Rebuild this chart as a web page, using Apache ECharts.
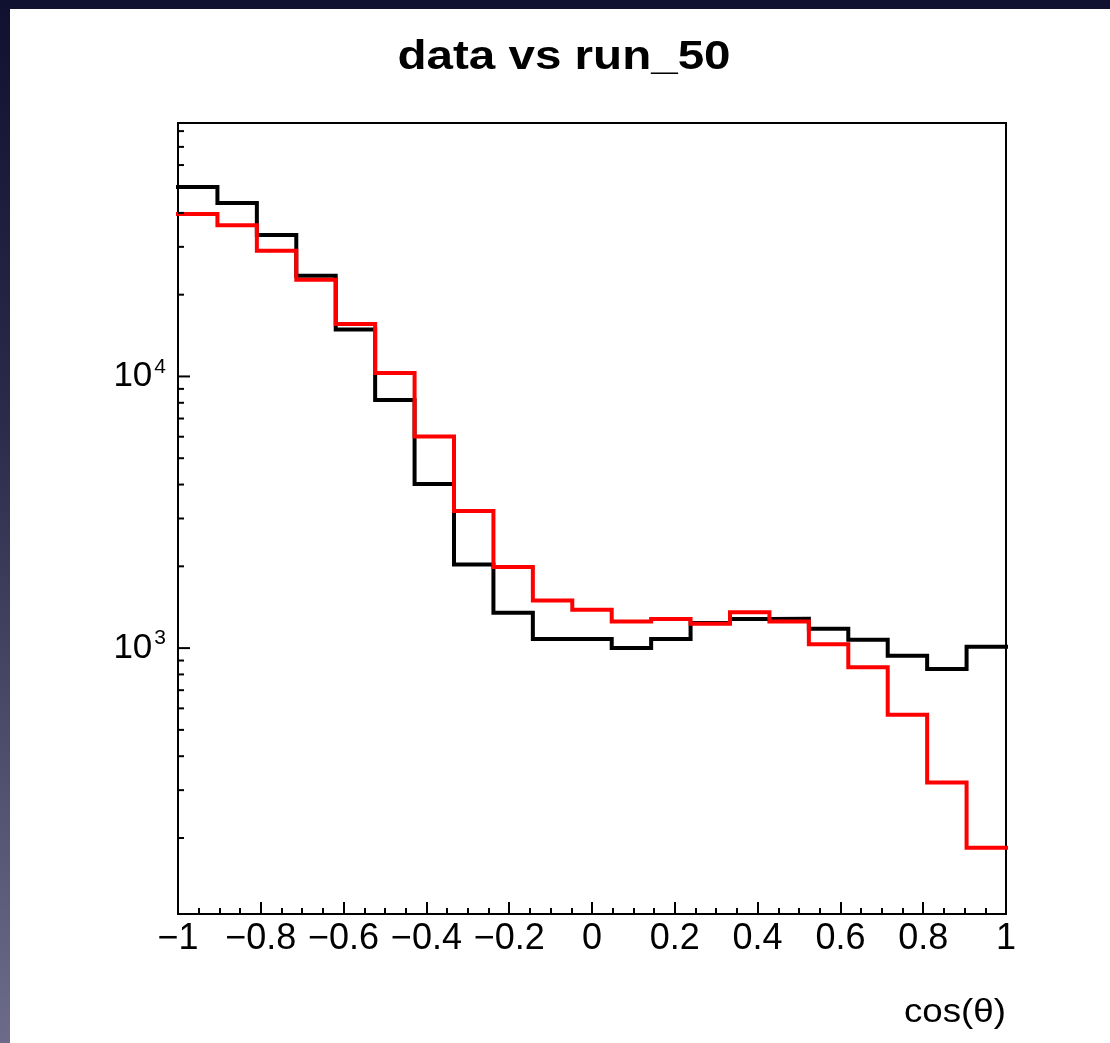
<!DOCTYPE html>
<html>
<head>
<meta charset="utf-8">
<script src="https://cdn.jsdelivr.net/npm/echarts@6/dist/echarts.min.js"></script>
<style>
  html, body { margin: 0; padding: 0; width: 1110px; height: 1043px; overflow: hidden; }
  body { background: linear-gradient(180deg, #101030 0%, #2a2a4a 40%, #6c6c8a 100%); position: relative; }
  #paper { position: absolute; left: 10px; top: 9px; width: 1100px; height: 1034px; background: #ffffff; }
  #chart { position: absolute; left: 0; top: 0; width: 1110px; height: 1043px; }
</style>
</head>
<body>
<div id="paper"></div>
<div id="chart"></div>
<script>
// ---- data ----
const titleText = 'data vs run_50';
const xAxisTitle = 'cos(\u03b8)';
const xMin = -1;
const xMax = 1;
const nBins = 21;
// bin contents (log scale)
const dataCounts = [49800, 43500, 33200, 23500, 14900, 8190, 4020, 2030, 1350, 1080,
                    1080, 1000, 1080, 1236, 1280, 1282, 1178, 1073, 937, 837, 1011];
const run50Counts = [39600, 36000, 29000, 22700, 15600, 10300, 6010, 3200, 1990, 1496,
                     1384, 1253, 1279, 1229, 1355, 1253, 1034, 851, 569, 320, 184];
const yMin = 105;
const yMax = 85700;
const yDecades = [1000, 10000];
const yMinorTicks = [200, 300, 400, 500, 600, 700, 800, 900,
                     2000, 3000, 4000, 5000, 6000, 7000, 8000, 9000,
                     20000, 30000, 40000, 50000, 60000, 70000, 80000];

// ---- build ----
const binWidth = (xMax - xMin) / nBins;
function stepData(counts) {
  const pts = counts.map((v, i) => [xMin + i * binWidth, v]);
  pts.push([xMax, counts[counts.length - 1]]);
  return pts;
}
function fmtX(v) {
  const r = Math.round(v * 10) / 10;
  const s = String(Math.abs(r));
  return (r < 0 ? '\u2212' : '') + s;
}
const tickData = yMinorTicks.map(v => [xMin, v, 6]).concat(yDecades.map(v => [xMin, v, 12]));

const FONT = '"Liberation Sans", Arial, Helvetica, sans-serif';
const chart = echarts.init(document.getElementById('chart'), null, { renderer: 'canvas' });
chart.setOption({
  animation: false,
  backgroundColor: 'transparent',
  grid: { left: 178, top: 123, right: 104, bottom: 129, show: true, borderColor: '#000', borderWidth: 2, backgroundColor: 'transparent', containLabel: false },
  xAxis: {
    type: 'value', min: xMin, max: xMax, interval: 0.2,
    axisLine: { show: false },
    splitLine: { show: false },
    axisTick: { show: true, inside: true, length: 12, lineStyle: { color: '#000', width: 2 } },
    minorTick: { show: true, splitNumber: 4, length: 6, lineStyle: { color: '#000', width: 2 } },
    axisLabel: { color: '#000', fontFamily: FONT, fontSize: 36, margin: 7, formatter: fmtX, showMinLabel: true, showMaxLabel: true }
  },
  yAxis: {
    type: 'log', logBase: 10, min: yMin, max: yMax,
    axisLine: { show: false },
    splitLine: { show: false },
    axisTick: { show: false },
    axisLabel: {
      color: '#000', fontFamily: FONT, margin: 12,
      formatter: function (v) {
        const e = Math.round(Math.log10(v));
        if (Math.abs(Math.pow(10, e) - v) / v > 1e-6) return '';
        return '{b|10}{s|' + e + '}';
      },
      rich: {
        b: { fontSize: 35, fontFamily: FONT, color: '#000', lineHeight: 40 },
        s: { fontSize: 21, fontFamily: FONT, color: '#000', verticalAlign: 'top', lineHeight: 40, padding: [0, 0, 0, 2] }
      }
    }
  },
  series: [
    {
      name: 'data', type: 'line', step: 'end', data: stepData(dataCounts),
      showSymbol: false, symbol: 'none', clip: false,
      lineStyle: { color: '#000000', width: 4, cap: 'square', join: 'miter' }, z: 3
    },
    {
      name: 'run_50', type: 'line', step: 'end', data: stepData(run50Counts),
      showSymbol: false, symbol: 'none', clip: false,
      lineStyle: { color: '#ff0000', width: 4, cap: 'square', join: 'miter' }, z: 4
    },
    {
      name: 'yticks', type: 'custom', data: tickData, clip: false, silent: true, z: 5,
      renderItem: function (params, api) {
        const p = api.coord([api.value(0), api.value(1)]);
        const len = api.value(2);
        return { type: 'line', shape: { x1: p[0], y1: p[1], x2: p[0] + len, y2: p[1] }, style: { stroke: '#000', lineWidth: 2 } };
      }
    }
  ],
  graphic: [
    { type: 'text', x: 564, y: 58, scaleX: 1.16, style: { text: titleText, font: 'bold 41px ' + FONT, fill: '#000', textAlign: 'center', textVerticalAlign: 'middle' } },
    { type: 'text', x: 1006, y: 1013, scaleX: 1.08, style: { text: xAxisTitle, font: '34px ' + FONT, fill: '#000', textAlign: 'right', textVerticalAlign: 'middle' } }
  ]
});
</script>
</body>
</html>
